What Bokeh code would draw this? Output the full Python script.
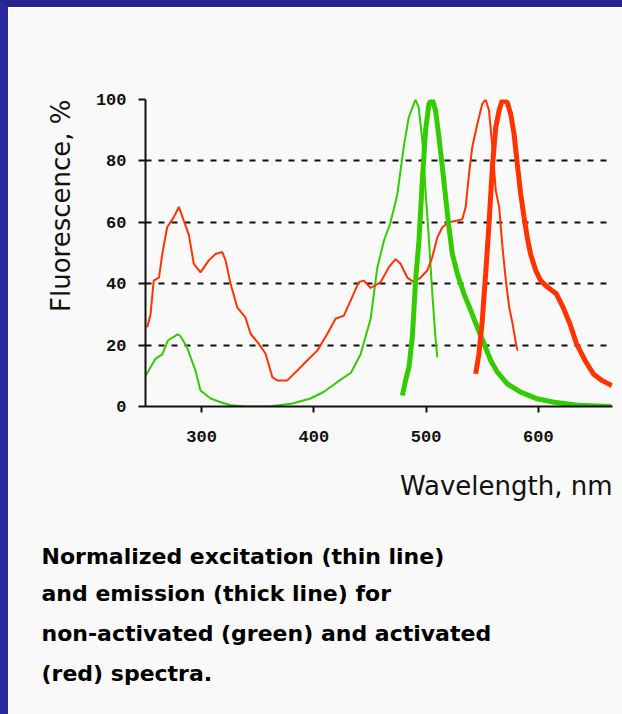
from bokeh.plotting import figure
from bokeh.models import Range1d, FixedTicker, Title
from bokeh.embed import file_html
from bokeh.resources import INLINE

# ---------------- data ----------------
green_exc_nm = [250, 259, 265, 270, 278.5, 281, 287, 294.5, 299, 308, 317, 326, 340, 360,
                381, 397, 409, 421, 433, 441.6, 450.5, 456.4, 462.4, 468, 474.3, 480,
                484.4, 490.4, 493.3, 496.6, 499.5, 502, 505.5, 508.5, 510]
green_exc_val = [10, 15.6, 17, 21.5, 23.5, 23, 19.3, 11.7, 5.2, 2.6, 1.4, 0.4, 0, 0,
                 1, 2.6, 4.8, 8, 11, 17, 28.5, 45, 54, 59.6, 69, 84.5,
                 94, 100, 97.5, 86.6, 70, 57, 36.7, 21.5, 16]

green_em_nm = [478.8, 481.7, 484.7, 487.7, 490.6, 493.6, 496.6, 499.5, 502.5, 505.4, 508.4,
               511.4, 514.4, 517.4, 520.3, 523.3, 527.8, 533.7, 539.7, 545.6, 551.5, 557.5,
               563.4, 572.3, 584.2, 599, 614, 635, 665]
green_em_val = [3.6, 8.5, 12.8, 22.6, 41, 54, 73.6, 90, 98.6, 100, 96.4,
                87.7, 78, 68, 58.4, 49.8, 43.2, 36.7, 31.3, 25.8, 20.5, 15,
                11.2, 7.4, 4.7, 2.5, 1.4, 0.4, 0]

red_exc_nm = [251.5, 254.5, 257.3, 262, 265, 269.3, 275.2, 279.7, 284, 288.6, 293, 299,
              306.4, 312.4, 318.4, 321.3, 325.8, 331.7, 339, 343.6, 351, 357, 363, 367.4,
              376.3, 385.2, 394, 403, 412, 419.3, 426.7, 432.7, 440, 444.5, 450.5, 459.4,
              466.8, 472.7, 477.2, 483.2, 489, 495, 501, 505.4, 509.9, 514.4, 520.3, 527.8,
              532.2, 535.2, 538.2, 541.1, 545.6, 550, 553, 556, 559, 562, 565, 568, 571,
              574, 577, 580, 581.5]
red_exc_val = [25.8, 30, 41, 42, 49.8, 58.4, 61.7, 65, 60.6, 56, 46.5, 43.7,
               47.6, 49.7, 50.3, 47.6, 40, 32.3, 29, 23.7, 20.4, 17.2, 9.5, 8.5,
               8.5, 11.7, 15, 18.2, 23.7, 28.6, 29.6, 34.5, 40.5, 41, 38.6, 40.5,
               45.4, 48, 46.5, 42, 40.5, 42, 44.3, 48.6, 55, 58.4, 60, 60.6,
               61, 65, 75.8, 84.5, 92, 98.6, 100, 96.4, 84.5, 70.4, 65, 52, 41,
               32.3, 27, 20.4, 18.2]

red_em_nm = [544.1, 547, 550, 553, 556, 559, 562, 565, 568, 572.3, 575.3, 578.3, 581.2,
             584.2, 587.2, 590.1, 593, 597.6, 602, 608, 616, 622, 628, 634, 641.5, 649,
             656.5, 665.4]
red_em_val = [10.6, 17, 28, 43.2, 59.5, 78, 91, 96.4, 100, 99, 95.3, 88.8, 79,
              69.3, 61.7, 55, 49.7, 44.3, 41, 38.9, 36.7, 32.3, 27, 20.4, 15, 10.6,
              8.5, 6.8]

x_ticks = [300, 400, 500, 600]
y_ticks = [0, 20, 40, 60, 80, 100]
grid_ticks = [20, 40, 60, 80, 100]

x_title = "Wavelength, nm"
y_title = "Fluorescence, %"
caption_lines = ["Normalized excitation (thin line)",
                 "and emission (thick line) for",
                 "non-activated (green) and activated",
                 "(red) spectra."]

GREEN = "#33cc00"
RED = "#ff3300"
PANEL = "#f9f9f9"
INK = "#111111"


def set_standoff(t, s):
    try:
        t.standoff = s
    except Exception:
        t.standoff = max(s, 0)


# ---------------- figure ----------------
p = figure(width=622, height=714, output_backend="svg", toolbar_location=None,
           x_range=Range1d(250, 666), y_range=Range1d(0, 100),
           min_border_left=137, min_border_right=18, min_border_top=92, min_border_bottom=315)
p.background_fill_color = PANEL
p.border_fill_color = PANEL
p.outline_line_color = None
p.styles = {"border-left": "8px solid #2a2a9c", "border-top": "7px solid #24248c"}

# axes
for ax in (p.xaxis[0], p.yaxis[0]):
    ax.axis_line_color = INK
    ax.axis_line_width = 2
    ax.major_tick_line_color = INK
    ax.major_tick_line_width = 2
    ax.major_tick_in = 0
    ax.minor_tick_line_color = None
    ax.major_label_text_font = "Liberation Mono"
    ax.major_label_text_font_style = "bold"
    ax.major_label_text_font_size = "17px"
    ax.major_label_text_color = INK

p.xaxis.ticker = FixedTicker(ticks=x_ticks)
p.xaxis.major_tick_out = 6
p.xaxis.major_label_standoff = 18

p.yaxis.ticker = FixedTicker(ticks=y_ticks)
p.yaxis.major_tick_out = 7
p.yaxis.major_label_standoff = 12

p.xgrid.grid_line_color = None
p.ygrid.ticker = FixedTicker(ticks=grid_ticks)
p.ygrid.grid_line_color = INK
p.ygrid.grid_line_width = 2
p.ygrid.grid_line_dash = "6 7"

# curves
p.line(green_exc_nm, green_exc_val, line_color=GREEN, line_width=2)
p.line(red_exc_nm, red_exc_val, line_color=RED, line_width=2)
p.line(green_em_nm, green_em_val, line_color=GREEN, line_width=5)
p.line(red_em_nm, red_em_val, line_color=RED, line_width=5)

# axis titles (as titles, right / top aligned like the reference)
tx = Title(text=x_title, align="right", text_font="DejaVu Sans", text_font_style="normal",
           text_font_size="26px", text_color=INK)
set_standoff(tx, 48)
p.add_layout(tx, "below")

ty = Title(text=y_title, align="right", text_font="DejaVu Sans", text_font_style="normal",
           text_font_size="26px", text_color=INK)
set_standoff(ty, 34)
p.add_layout(ty, "left")

# caption (stacked titles below the x title)
cap_standoffs = [34, -14, 40, -14]
for txt, s in zip(caption_lines, cap_standoffs):
    t = Title(text=txt, align="left", offset=-104,
              text_font="DejaVu Sans", text_font_style="bold", text_font_size="22px",
              text_color="#000000")
    set_standoff(t, s)
    p.add_layout(t, "below")

open("out.html", "w").write(file_html(p, INLINE))
